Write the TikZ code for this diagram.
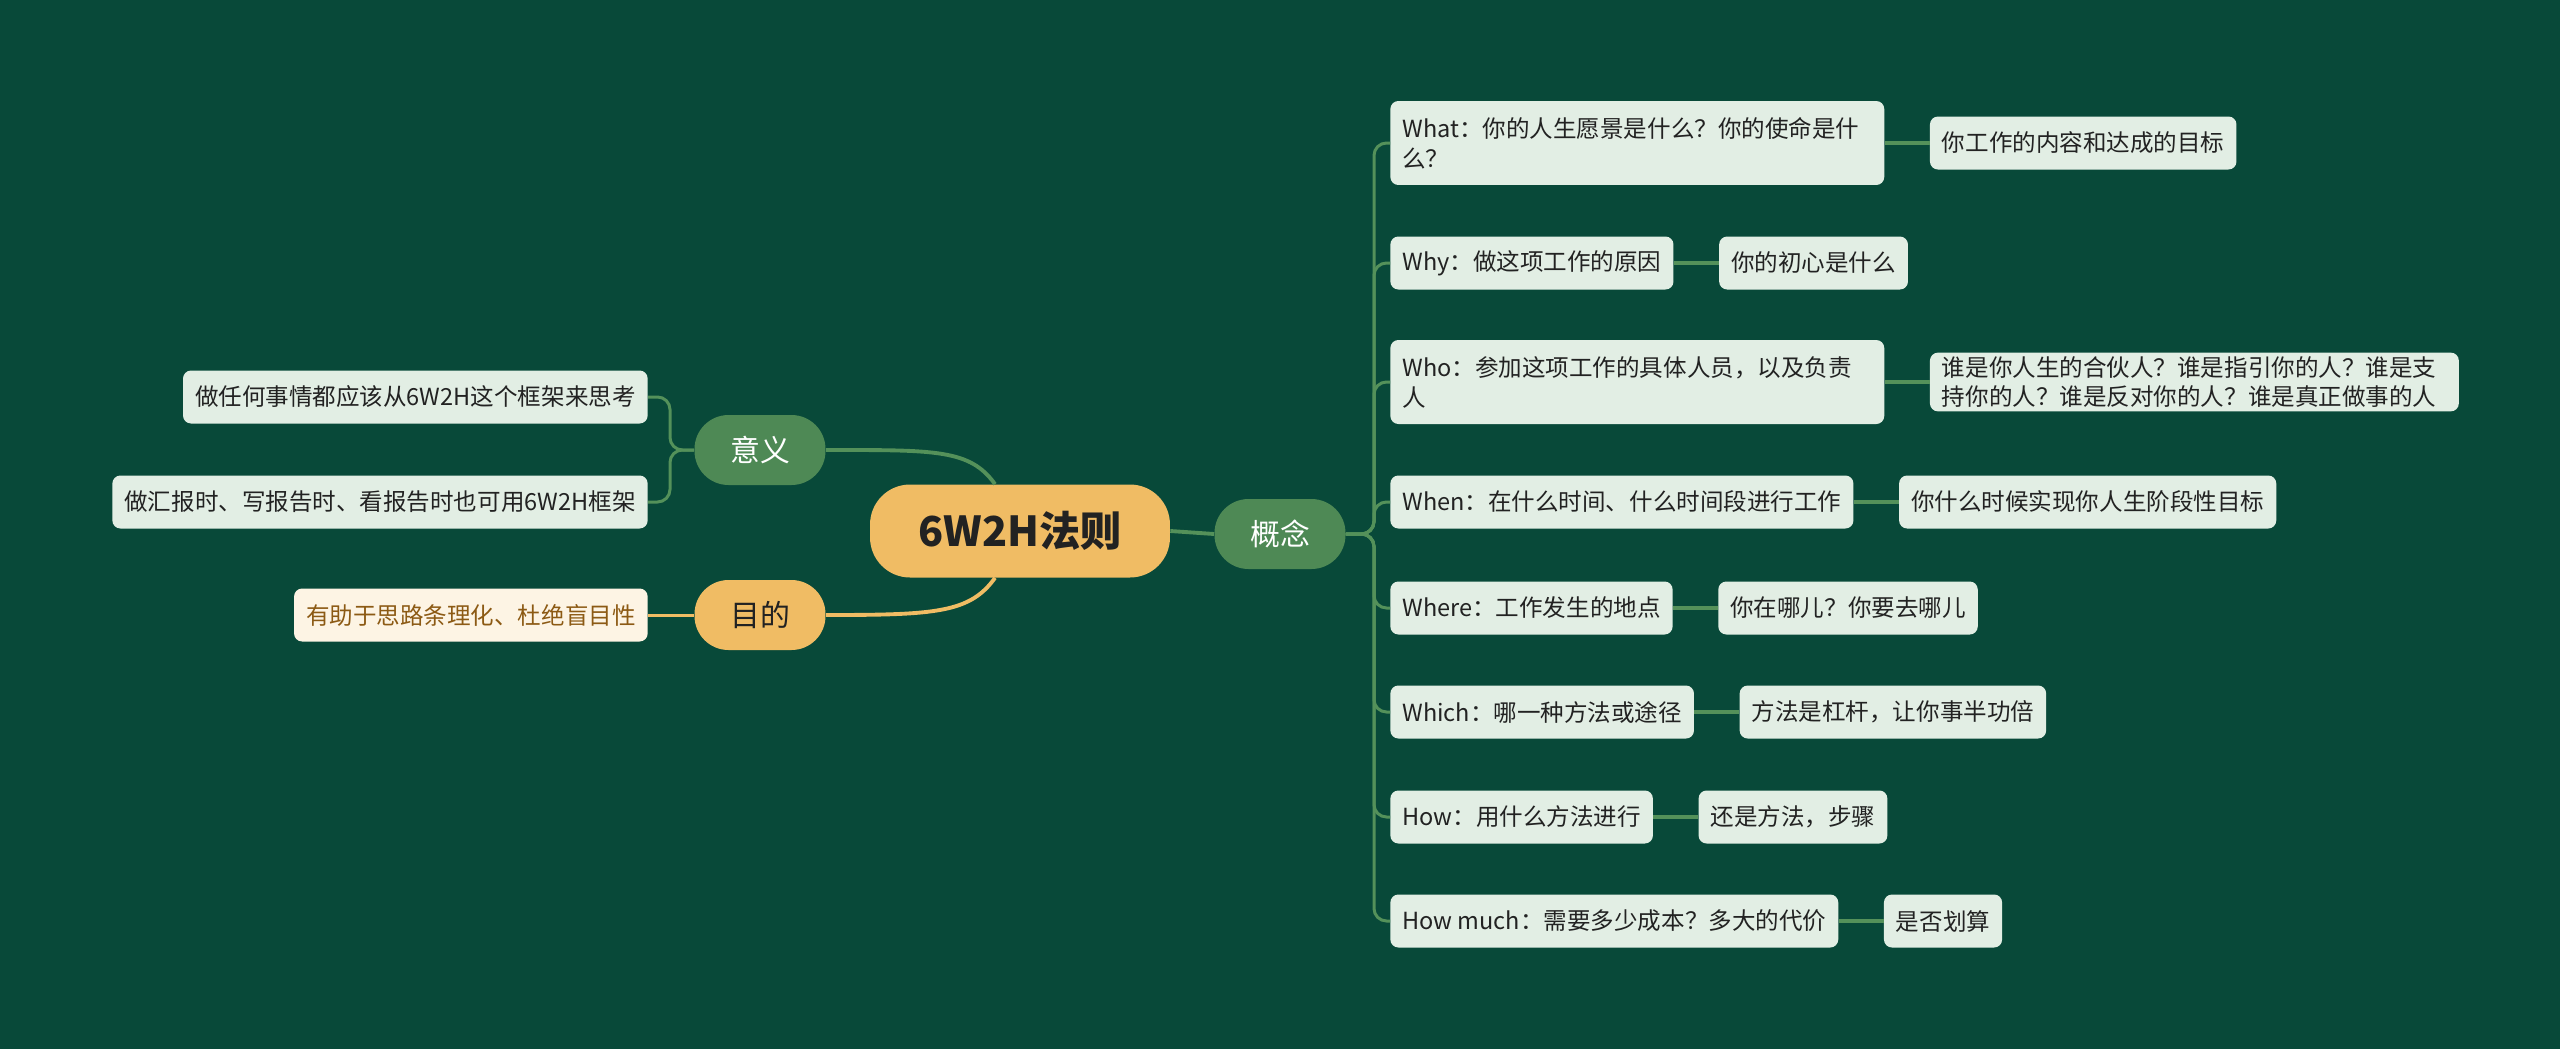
\documentclass[tikz,border=0pt]{standalone}
\usepackage{fontspec}
\setmainfont{Noto Sans CJK SC}
\usetikzlibrary{positioning}
\definecolor{bgc}{RGB}{8,73,57}
\definecolor{grn}{RGB}{78,137,85}
\definecolor{grnline}{RGB}{84,145,90}
\definecolor{ylw}{RGB}{240,188,100}
\definecolor{leafc}{RGB}{226,238,228}
\definecolor{cream}{RGB}{253,244,228}
\definecolor{brn}{RGB}{140,90,20}
\definecolor{txt}{RGB}{34,34,34}
\newcommand{\leaffont}{\fontsize{13.4}{17}\selectfont}

\begin{document}
\begin{tikzpicture}[x=0.02cm,y=-0.02cm,
  leaf/.style={fill=leafc,rounded corners=0.16cm,align=left,text=txt,font=\leaffont,
    minimum height=1.06cm,inner xsep=0.24cm,inner ysep=2pt},
  pill/.style={rounded corners=0.68cm,minimum width=2.62cm,minimum height=1.4cm,
    font=\fontsize{17}{20}\selectfont},
  gline/.style={draw=grnline,line width=1.7pt,rounded corners=0.25cm},
  yline/.style={draw=ylw,line width=1.7pt}]
\fill[bgc] (0,0) rectangle (2560,1049);
\useasboundingbox (0,0) rectangle (2560,1049);

\node [fill=ylw,rounded corners=0.8cm,minimum width=6cm,minimum height=1.86cm,text=txt,
  font=\fontsize{23.5}{26}\selectfont\bfseries] (z) at (1020,531) {6W2H法则};
\node [pill,fill=grn,text=white] (yy) at (760,450) {意义};
\node [pill,fill=ylw,text=txt] (md) at (760,615) {目的};
\node [pill,fill=grn,text=white] (gn) at (1280,534) {概念};

% left side
\node [leaf,anchor=east] (l1) at (648,397) {做任何事情都应该从6W2H这个框架来思考};
\node [leaf,anchor=east] (l2) at (648,502) {做汇报时、写报告时、看报告时也可用6W2H框架};
\node [leaf,anchor=east,fill=cream,text=brn] (l3) at (648,615) {有助于思路条理化、杜绝盲目性};

% right side
\node [leaf,anchor=west,text width=9.4cm,minimum height=1.68cm] (wt) at (1390,143)
  {What：你的人生愿景是什么？你的使命是什\\么？};
\node [leaf,anchor=west] (wy) at (1390,263) {Why：做这项工作的原因};
\node [leaf,anchor=west,text width=9.4cm,minimum height=1.68cm] (wo) at (1390,382)
  {Who：参加这项工作的具体人员，以及负责\\人};
\node [leaf,anchor=west] (wn) at (1390,502) {When：在什么时间、什么时间段进行工作};
\node [leaf,anchor=west] (we) at (1390,608) {Where：工作发生的地点};
\node [leaf,anchor=west] (wc) at (1390,712) {Which：哪一种方法或途径};
\node [leaf,anchor=west] (hw) at (1390,817) {How：用什么方法进行};
\node [leaf,anchor=west] (hm) at (1390,921) {How much：需要多少成本？多大的代价};

\node [leaf,right=0.9cm of wt] (wt2) {你工作的内容和达成的目标};
\node [leaf,right=0.9cm of wy] (wy2) {你的初心是什么};
\node [leaf,right=0.9cm of wo,text width=10.1cm] (wo2)
  {谁是你人生的合伙人？谁是指引你的人？谁是支\\持你的人？谁是反对你的人？谁是真正做事的人};
\node [leaf,right=0.9cm of wn] (wn2) {你什么时候实现你人生阶段性目标};
\node [leaf,right=0.9cm of we] (we2) {你在哪儿？你要去哪儿};
\node [leaf,right=0.9cm of wc] (wc2) {方法是杠杆，让你事半功倍};
\node [leaf,right=0.9cm of hw] (hw2) {还是方法，步骤};
\node [leaf,right=0.9cm of hm] (hm2) {是否划算};

% connectors
\draw [gline,line width=2.2pt] (yy.east) .. controls +(110,0) and +(-25,-35) .. ([xshift=-0.5cm]z.north);
\draw [yline,line width=2.2pt] (md.east) .. controls +(110,0) and +(-25,35) .. ([xshift=-0.5cm]z.south);
\draw [gline,line width=2.2pt] (z.east) -- (gn.west);

\draw [gline] (yy.west) -- (670,450) |- (l1.east);
\draw [gline] (yy.west) -- (670,450) |- (l2.east);
\draw [yline] (md.west) -- (l3.east);

\foreach \n in {wt,wy,wo,wn,we,wc,hw,hm}
  \draw [gline] (gn.east) -- (1374,534) |- (\n.west);
\foreach \n in {wt,wy,wo,wn,we,wc,hw,hm}
  \draw [gline,line width=2.2pt] (\n.east) -- (\n2.west);
\end{tikzpicture}
\end{document}
